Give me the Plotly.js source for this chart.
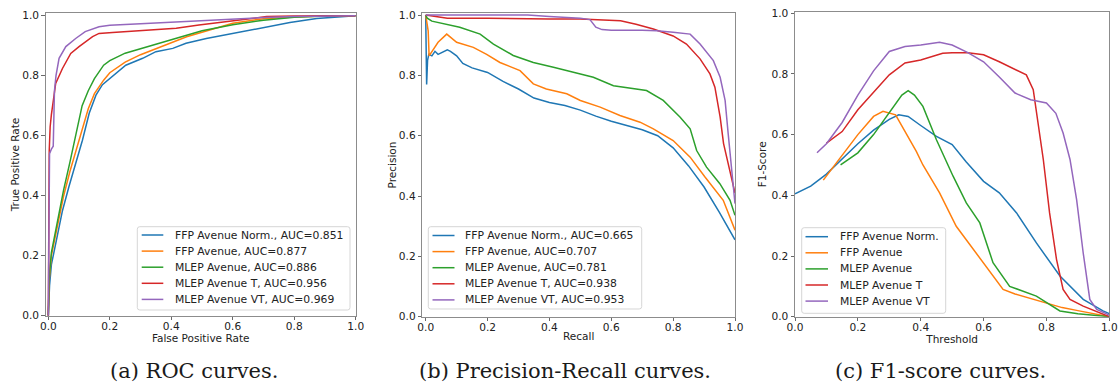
<!DOCTYPE html>
<html>
<head>
<meta charset="utf-8">
<script src="https://cdn.plot.ly/plotly-3.0.1.min.js"></script>
<style>html,body{margin:0;padding:0;background:#fff;}#chart{width:1120px;height:389px;}</style>
</head>
<body>
<div id="chart"></div>
<script>
// ---------- Series names ----------
const seriesNames = ["FFP Avenue Norm.", "FFP Avenue", "MLEP Avenue", "MLEP Avenue T", "MLEP Avenue VT"];
const rocAuc = ["0.851", "0.877", "0.886", "0.956", "0.969"];
const prAuc = ["0.665", "0.707", "0.781", "0.938", "0.953"];
const seriesColors = ["#1f77b4", "#ff7f0e", "#2ca02c", "#d62728", "#9467bd"];
const tickVals = [0, 0.2, 0.4, 0.6, 0.8, 1.0];
const captions = ["(a) ROC curves.", "(b) Precision-Recall curves.", "(c) F1-score curves."];
const axisTitlesX = ["False Positive Rate", "Recall", "Threshold"];
const axisTitlesY = ["True Positive Rate", "Precision", "F1-Score"];

// ---------- (a) ROC ----------
const rocNormX = [0,0.004,0.01,0.024,0.046,0.067,0.089,0.111,0.133,0.155,0.176,0.2,0.252,0.307,0.35,0.405,0.448,0.514,0.6,0.677,0.786,0.873,1];
const rocNormY = [0,0.1,0.17,0.24,0.35,0.43,0.51,0.585,0.675,0.735,0.77,0.79,0.835,0.858,0.88,0.891,0.908,0.924,0.941,0.954,0.977,0.991,1];
const rocFfpX = [0,0.003,0.01,0.03,0.05,0.07,0.09,0.11,0.13,0.15,0.18,0.2,0.25,0.3,0.35,0.4,0.45,0.5,0.55,0.6,0.7,0.8,0.9,1];
const rocFfpY = [0,0.12,0.2,0.3,0.4,0.48,0.55,0.62,0.69,0.74,0.785,0.81,0.845,0.87,0.89,0.91,0.93,0.945,0.96,0.975,0.99,0.996,0.999,1];
const rocMlepX = [0,0.003,0.01,0.03,0.05,0.07,0.09,0.11,0.13,0.15,0.18,0.2,0.25,0.3,0.35,0.4,0.45,0.5,0.6,0.7,0.8,0.9,1];
const rocMlepY = [0,0.13,0.21,0.32,0.42,0.51,0.6,0.7,0.75,0.79,0.835,0.85,0.875,0.89,0.905,0.92,0.935,0.95,0.97,0.985,0.995,0.999,1];
const rocTX = [0,0.001,0.003,0.006,0.01,0.024,0.046,0.073,0.1,0.144,0.165,0.209,0.33,0.416,0.49,0.6,0.71,0.8,1];
const rocTY = [0,0.35,0.55,0.63,0.67,0.774,0.824,0.874,0.897,0.93,0.941,0.944,0.952,0.958,0.969,0.983,0.997,0.999,1];
const rocVTX = [0,0.002,0.004,0.01,0.016,0.02,0.025,0.035,0.046,0.057,0.089,0.12,0.165,0.2,0.3,0.4,0.5,0.6,0.7,0.8,1];
const rocVTY = [0,0.45,0.54,0.555,0.565,0.75,0.8,0.858,0.88,0.897,0.924,0.947,0.963,0.968,0.973,0.978,0.985,0.99,0.994,0.997,1];

// ---------- (b) Precision-Recall ----------
const prNormX = [0,0.003,0.006,0.01,0.02,0.03,0.04,0.05,0.07,0.08,0.1,0.12,0.15,0.2,0.25,0.3,0.35,0.4,0.45,0.5,0.55,0.6,0.65,0.7,0.75,0.8,0.85,0.9,0.95,1];
const prNormY = [1,0.77,0.85,0.87,0.865,0.88,0.87,0.875,0.885,0.88,0.865,0.84,0.825,0.81,0.78,0.755,0.725,0.71,0.7,0.685,0.665,0.648,0.635,0.62,0.6,0.56,0.5,0.43,0.345,0.255];
const prFfpX = [0,0.008,0.011,0.02,0.04,0.068,0.1,0.154,0.197,0.24,0.305,0.348,0.39,0.456,0.5,0.564,0.628,0.693,0.736,0.8,0.855,0.903,0.962,1];
const prFfpY = [1,0.948,0.865,0.88,0.91,0.937,0.91,0.893,0.87,0.843,0.816,0.772,0.755,0.739,0.717,0.695,0.667,0.645,0.623,0.584,0.529,0.463,0.386,0.287];
const prMlepX = [0,0.005,0.02,0.068,0.11,0.176,0.219,0.283,0.348,0.413,0.477,0.542,0.607,0.671,0.714,0.768,0.822,0.855,0.876,0.908,0.951,0.984,1];
const prMlepY = [1,0.99,0.98,0.97,0.96,0.937,0.904,0.866,0.843,0.827,0.81,0.794,0.766,0.755,0.75,0.717,0.662,0.623,0.551,0.496,0.441,0.386,0.336];
const prTX = [0,0.07,0.2,0.3,0.4,0.5,0.63,0.68,0.736,0.8,0.843,0.887,0.919,0.935,0.952,0.963,0.979,0.995,1];
const prTY = [1,0.99,0.99,0.988,0.987,0.987,0.981,0.97,0.954,0.931,0.904,0.855,0.805,0.761,0.662,0.574,0.5,0.43,0.41];
const prVTX = [0,0.2,0.33,0.4,0.5,0.531,0.55,0.57,0.6,0.7,0.747,0.8,0.855,0.887,0.93,0.952,0.968,0.978,0.99,1];
const prVTY = [1,1,1,0.995,0.99,0.985,0.96,0.952,0.95,0.95,0.948,0.943,0.937,0.904,0.849,0.794,0.717,0.606,0.474,0.375];

// ---------- (c) F1-score ----------
const f1NormX = [0,0.05,0.1,0.15,0.2,0.25,0.3,0.33,0.36,0.4,0.45,0.5,0.545,0.6,0.65,0.705,0.768,0.843,0.917,0.98,1];
const f1NormY = [0.405,0.43,0.47,0.52,0.57,0.615,0.65,0.665,0.66,0.63,0.594,0.567,0.51,0.446,0.408,0.342,0.243,0.134,0.057,0.019,0.01];
const f1FfpX = [0.09,0.15,0.2,0.25,0.28,0.32,0.354,0.386,0.407,0.46,0.513,0.577,0.63,0.662,0.7,0.75,0.8,0.85,0.9,0.95,1];
const f1FfpY = [0.45,0.53,0.6,0.66,0.677,0.665,0.605,0.545,0.5,0.408,0.298,0.21,0.134,0.09,0.075,0.06,0.045,0.03,0.02,0.01,0.0];
const f1MlepX = [0.145,0.2,0.25,0.3,0.34,0.36,0.38,0.407,0.45,0.503,0.545,0.588,0.63,0.683,0.768,0.843,0.9,1];
const f1MlepY = [0.5,0.54,0.6,0.67,0.73,0.745,0.73,0.693,0.583,0.463,0.375,0.309,0.178,0.1,0.068,0.019,0.01,0.0];
const f1TX = [0.1,0.15,0.2,0.25,0.3,0.35,0.4,0.47,0.5,0.55,0.6,0.65,0.7,0.736,0.758,0.768,0.79,0.81,0.832,0.853,0.875,0.917,0.98,1];
const f1TY = [0.572,0.61,0.682,0.74,0.797,0.836,0.846,0.868,0.87,0.87,0.863,0.84,0.814,0.797,0.748,0.671,0.518,0.342,0.189,0.09,0.057,0.035,0.01,0.0];
const f1VTX = [0.07,0.1,0.15,0.2,0.25,0.3,0.35,0.4,0.46,0.5,0.55,0.6,0.65,0.7,0.75,0.8,0.83,0.853,0.875,0.896,0.917,0.938,0.96,1];
const f1VTY = [0.54,0.57,0.64,0.73,0.81,0.874,0.89,0.895,0.904,0.895,0.87,0.84,0.79,0.737,0.715,0.704,0.67,0.605,0.518,0.386,0.21,0.057,0.024,0.005];

const rocX = [rocNormX, rocFfpX, rocMlepX, rocTX, rocVTX];
const rocY = [rocNormY, rocFfpY, rocMlepY, rocTY, rocVTY];
const prX = [prNormX, prFfpX, prMlepX, prTX, prVTX];
const prY = [prNormY, prFfpY, prMlepY, prTY, prVTY];
const f1X = [f1NormX, f1FfpX, f1MlepX, f1TX, f1VTX];
const f1Y = [f1NormY, f1FfpY, f1MlepY, f1TY, f1VTY];

const W = 1120, H = 389;
const px = v => v / W;
const py = v => 1 - v / H;
const FONT = 'DejaVu Sans, Verdana, sans-serif';

const panels = [
  {xs: rocX, ys: rocY, xa: 'x', ya: 'y', labels: seriesNames.map((n, i) => n + ', AUC=' + rocAuc[i])},
  {xs: prX, ys: prY, xa: 'x2', ya: 'y2', labels: seriesNames.map((n, i) => n + ', AUC=' + prAuc[i])},
  {xs: f1X, ys: f1Y, xa: 'x3', ya: 'y3', labels: seriesNames.slice()}
];

const traces = [];
panels.forEach(p => {
  for (let i = 0; i < 5; i++) {
    traces.push({x: p.xs[i], y: p.ys[i], type: 'scatter', mode: 'lines', xaxis: p.xa, yaxis: p.ya,
      name: p.labels[i], showlegend: false,
      line: {color: seriesColors[i], width: 1.5}, hoverinfo: 'skip'});
  }
});

// ---------- Legend boxes (matplotlib-style, drawn as shapes + text) ----------
const legendBoxes = [
  {x0: 137.3, x1: 350, y0: 226.7, y1: 310, lineX0: 141.7, lineX1: 163.3, textX: 172.7, firstY: 235},
  {x0: 428.3, x1: 641.7, y0: 226.7, y1: 309, lineX0: 432.5, lineX1: 454.5, textX: 463, firstY: 235.5},
  {x0: 801.7, x1: 945.7, y0: 227.7, y1: 313.3, lineX0: 805.5, lineX1: 828, textX: 837.7, firstY: 236.7}
];
const legendStep = 16.1;

function roundRectPath(x0, y0, x1, y1, r) {
  const X = v => px(v).toFixed(5), Y = v => py(v).toFixed(5);
  return 'M' + X(x0 + r) + ',' + Y(y0) + ' L' + X(x1 - r) + ',' + Y(y0) +
    ' Q' + X(x1) + ',' + Y(y0) + ' ' + X(x1) + ',' + Y(y0 + r) +
    ' L' + X(x1) + ',' + Y(y1 - r) +
    ' Q' + X(x1) + ',' + Y(y1) + ' ' + X(x1 - r) + ',' + Y(y1) +
    ' L' + X(x0 + r) + ',' + Y(y1) +
    ' Q' + X(x0) + ',' + Y(y1) + ' ' + X(x0) + ',' + Y(y1 - r) +
    ' L' + X(x0) + ',' + Y(y0 + r) +
    ' Q' + X(x0) + ',' + Y(y0) + ' ' + X(x0 + r) + ',' + Y(y0) + ' Z';
}

const shapes = [];
const annotations = [];
legendBoxes.forEach((b, k) => {
  shapes.push({type: 'path', xref: 'paper', yref: 'paper', path: roundRectPath(b.x0, b.y0, b.x1, b.y1, 2.5),
    fillcolor: 'rgba(255,255,255,0.85)', line: {color: '#d6d6d6', width: 1}, layer: 'above'});
  panels[k].labels.forEach((lab, i) => {
    const yy = b.firstY + i * legendStep;
    shapes.push({type: 'line', xref: 'paper', yref: 'paper', x0: px(b.lineX0), x1: px(b.lineX1), y0: py(yy), y1: py(yy),
      line: {color: seriesColors[i], width: 1.5}, layer: 'above'});
    annotations.push({text: lab, xref: 'paper', yref: 'paper', x: px(b.textX), y: py(yy), xanchor: 'left', yanchor: 'middle',
      showarrow: false, font: {family: FONT, size: 10.8, color: '#222'}});
  });
});

const captionX = [194, 565, 940];
captions.forEach((c, k) => {
  annotations.push({text: c, x: px(captionX[k]), y: py(371), xref: 'paper', yref: 'paper', showarrow: false,
    xanchor: 'center', yanchor: 'middle', font: {family: 'DejaVu Serif, serif', size: 21, color: '#1a1a1a'}});
});

function xAxis(domPx, range, title, anchor) {
  return {domain: [px(domPx[0]), px(domPx[1])], range: range, anchor: anchor,
    tickvals: tickVals, tickformat: '.1f', ticks: 'outside', ticklen: 3.5, tickwidth: 0.8, tickcolor: '#444',
    ticklabelstandoff: -3,
    showline: true, mirror: true, linecolor: '#8c8c8c', linewidth: 1, showgrid: false, zeroline: false,
    tickfont: {family: FONT, size: 10.6, color: '#222'},
    title: {text: title, font: {family: FONT, size: 10.5, color: '#222'}, standoff: 0},
    automargin: false, fixedrange: true};
}
function yAxis(domPx, range, title, anchor, standoff) {
  return {domain: [py(domPx[1]), py(domPx[0])], range: range, anchor: anchor,
    tickvals: tickVals, tickformat: '.1f', ticks: 'outside', ticklen: 3.5, tickwidth: 0.8, tickcolor: '#444',
    showline: true, mirror: true, linecolor: '#8c8c8c', linewidth: 1, showgrid: false, zeroline: false,
    tickfont: {family: FONT, size: 10.6, color: '#222'},
    title: {text: title, font: {family: FONT, size: 10.5, color: '#222'}, standoff: standoff},
    automargin: false, fixedrange: true};
}

const layout = {
  width: W, height: H,
  margin: {l: 0, r: 0, t: 0, b: 0},
  paper_bgcolor: '#fff', plot_bgcolor: '#fff',
  showlegend: false,
  xaxis: xAxis([45.7, 355.7], [-0.0085, 1.0], axisTitlesX[0], 'y'),
  yaxis: yAxis([13.3, 315.7], [0, 1.008], axisTitlesY[0], 'x', 0),
  xaxis2: xAxis([422.3, 735], [-0.011, 1.0], axisTitlesX[1], 'y2'),
  yaxis2: yAxis([13.3, 316.7], [0, 1.006], axisTitlesY[1], 'x2', 0),
  xaxis3: xAxis([795, 1109.3], [0, 1.0], axisTitlesX[2], 'y3'),
  yaxis3: yAxis([12, 316.7], [0, 1.004], axisTitlesY[2], 'x3', 2),
  shapes: shapes,
  annotations: annotations
};

Plotly.newPlot('chart', traces, layout, {displayModeBar: false, staticPlot: true});
</script>
</body>
</html>
